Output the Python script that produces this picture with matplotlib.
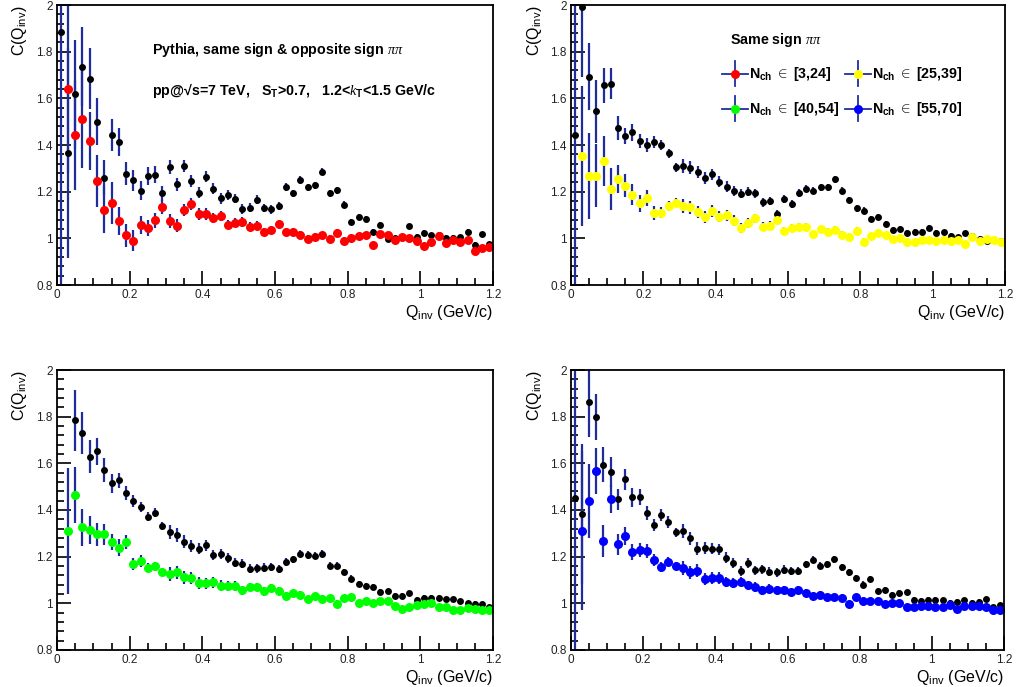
import numpy as np
import matplotlib
matplotlib.use("Agg")
import matplotlib.pyplot as plt
from matplotlib.ticker import MultipleLocator, FuncFormatter

plt.rcParams['font.family'] = ['Liberation Sans', 'DejaVu Sans']
plt.rcParams['mathtext.fontset'] = 'custom'
plt.rcParams['mathtext.rm'] = 'Liberation Sans'
plt.rcParams['mathtext.it'] = 'Liberation Serif:italic'
plt.rcParams['mathtext.bf'] = 'Liberation Sans:bold'

# bin centres, Qinv (GeV/c), 0.02 wide bins
q_bins = np.round(np.arange(60) * 0.02 + 0.01, 2)
nan = np.nan

# ---- top left: same sign (black) vs opposite sign (red)
p1_black = [1.886, 1.367, 1.617, 1.736, 1.684, 1.500, 1.259, 1.443, 1.413, 1.277,
            1.250, 1.204, 1.267, 1.273, 1.193, 1.304, 1.231, 1.310, 1.246, 1.196,
            1.264, 1.213, 1.171, 1.187, 1.170, 1.126, 1.131, 1.165, 1.129, 1.124,
            1.140, 1.221, 1.193, 1.250, 1.219, 1.227, 1.286, 1.194, 1.206, 1.144,
            1.071, 1.093, 1.084, 1.026, 1.057, 0.996, 1.000, 1.004, 1.051, 1.007,
            1.024, 1.014, 1.013, 1.003, 1.003, 1.004, 1.029, 0.973, 1.017, 0.974]
p1_red = [nan, 1.640, 1.443, 1.510, 1.416, 1.246, 1.123, 1.151, 1.074, 1.013,
          0.990, 1.057, 1.043, 1.077, 1.136, 1.073, 1.054, 1.121, 1.147, 1.103,
          1.104, 1.087, 1.097, 1.059, 1.067, 1.070, 1.050, 1.055, 1.027, 1.036,
          1.061, 1.026, 1.027, 1.014, 0.999, 1.006, 1.014, 0.999, 1.024, 0.990,
          1.003, 1.009, 1.014, 0.970, 1.019, 1.013, 0.993, 1.004, 1.001, 0.989,
          0.967, 0.986, 1.011, 0.981, 0.993, 0.986, 0.993, 0.946, 0.959, 0.961]

# ---- top right: Nch in [25,39]
p2_black = [1.443, 1.993, 1.693, 1.544, 1.656, 1.663, 1.473, 1.440, 1.454, 1.417,
            1.400, 1.414, 1.400, 1.365, 1.304, 1.309, 1.302, 1.284, 1.259, 1.274,
            1.242, 1.222, 1.202, 1.192, 1.200, 1.193, 1.154, 1.160, 1.105, 1.168,
            1.148, 1.193, 1.213, 1.205, 1.219, 1.219, 1.254, 1.203, 1.165, 1.128,
            1.119, 1.083, 1.093, 1.062, 1.036, 1.042, 1.024, 1.026, 1.029, 1.046,
            1.023, 1.026, 1.010, 1.004, 1.021, 1.009, 0.999, 0.990, 0.993, 0.987]
p2_yellow = [nan, 1.352, 1.266, 1.269, 1.331, 1.213, 1.254, 1.226, 1.186, 1.150,
             1.173, 1.110, 1.110, 1.139, 1.153, 1.140, 1.133, 1.113, 1.092, 1.117,
             1.093, 1.099, 1.076, 1.043, 1.066, 1.086, 1.050, 1.054, 1.079, 1.032,
             1.045, 1.047, 1.050, 1.017, 1.039, 1.029, 1.037, 1.016, 1.006, 1.033,
             0.986, 1.011, 1.021, 1.013, 0.996, 1.001, 0.983, 0.983, 0.993, 0.993,
             0.987, 0.993, 0.987, 0.993, 0.977, 1.007, 0.990, 0.997, 0.993, 0.986]

# ---- bottom left: Nch in [40,54]
p3_black = [nan, nan, 1.784, 1.730, 1.629, 1.651, 1.572, 1.515, 1.528, 1.475,
            1.438, 1.412, 1.372, 1.389, 1.332, 1.306, 1.293, 1.265, 1.245, 1.235,
            1.248, 1.207, 1.210, 1.196, 1.175, 1.170, 1.148, 1.150, 1.153, 1.156,
            1.149, 1.177, 1.189, 1.213, 1.207, 1.203, 1.213, 1.162, 1.162, 1.134,
            1.106, 1.083, 1.074, 1.070, 1.050, 1.051, 1.033, 1.033, 1.043, 1.014,
            1.024, 1.023, 1.024, 1.017, 1.017, 1.009, 1.000, 0.999, 0.996, 0.984]
p3_green = [nan, 1.309, 1.466, 1.326, 1.313, 1.296, 1.296, 1.263, 1.239, 1.262,
            1.170, 1.182, 1.153, 1.159, 1.136, 1.124, 1.133, 1.112, 1.107, 1.087,
            1.086, 1.090, 1.076, 1.074, 1.074, 1.056, 1.070, 1.070, 1.051, 1.067,
            1.051, 1.033, 1.043, 1.036, 1.017, 1.030, 1.019, 1.021, 0.999, 1.023,
            1.026, 1.003, 1.010, 1.003, 1.009, 1.009, 0.987, 0.976, 0.984, 0.993,
            0.999, 1.000, 0.983, 0.983, 0.971, 0.971, 0.981, 0.976, 0.971, 0.970]

# ---- bottom right: Nch in [55,70]
p4_black = [1.452, 1.382, 1.861, 1.798, 1.595, 1.564, 1.446, 1.531, 1.455, 1.455,
            1.386, 1.335, 1.379, 1.349, 1.305, 1.310, 1.278, 1.235, 1.239, 1.235,
            1.232, 1.195, 1.173, 1.139, 1.173, 1.142, 1.146, 1.136, 1.133, 1.145,
            1.139, 1.140, 1.167, 1.187, 1.162, 1.167, 1.189, 1.155, 1.133, 1.109,
            1.080, 1.103, 1.054, 1.059, 1.037, 1.044, 1.047, 1.014, 1.011, 1.016,
            1.016, 1.014, 1.003, 1.007, 1.013, 1.003, 1.007, 1.017, 0.984, 0.991]
p4_blue = [nan, 1.312, 1.439, 1.567, 1.267, 1.448, 1.253, 1.288, 1.219, 1.229,
           1.223, 1.186, 1.156, 1.179, 1.159, 1.153, 1.134, 1.140, 1.103, 1.110,
           1.109, 1.092, 1.087, 1.090, 1.077, 1.070, 1.056, 1.062, 1.056, 1.056,
           1.049, 1.059, 1.044, 1.031, 1.037, 1.026, 1.027, 1.023, 0.997, 1.026,
           1.011, 1.011, 1.011, 0.997, 1.001, 1.003, 0.983, 0.986, 0.989, 0.987,
           0.984, 0.986, 0.994, 0.977, 0.987, 0.989, 0.989, 0.983, 0.970, 0.970]

# statistical errors: first 15 bins per series, then the (small) common tail
tail_err = [0.030, 0.028, 0.027, 0.026, 0.025, 0.024, 0.023, 0.022, 0.021, 0.020,
            0.020, 0.019, 0.019, 0.018, 0.018, 0.017, 0.017, 0.016, 0.016, 0.016,
            0.015, 0.015, 0.015, 0.014, 0.014, 0.014, 0.013, 0.013, 0.013, 0.013,
            0.012, 0.012, 0.012, 0.012, 0.012, 0.011, 0.011, 0.011, 0.011, 0.011,
            0.011, 0.011, 0.011, 0.011, 0.011]
p1_black_err = [1.10, 0.45, 0.235, 0.17, 0.13, 0.10, 0.075, 0.07, 0.06, 0.05,
                0.045, 0.04, 0.04, 0.035, 0.033] + tail_err
p1_red_err = [nan, 0.36, 0.235, 0.21, 0.125, 0.11, 0.10, 0.09, 0.06, 0.05,
              0.045, 0.038, 0.035, 0.033, 0.03] + tail_err
p2_black_err = [0.80, 0.30, 0.143, 0.136, 0.075, 0.065, 0.05, 0.035, 0.035, 0.03,
                0.03, 0.025, 0.022, 0.02, 0.018] + tail_err
p2_yellow_err = [nan, 0.30, 0.185, 0.135, 0.107, 0.09, 0.06, 0.05, 0.045, 0.035,
                 0.035, 0.03, 0.025, 0.02, 0.018] + tail_err
p3_black_err = [nan, nan, 0.13, 0.09, 0.07, 0.057, 0.05, 0.04, 0.032, 0.03,
                0.025, 0.022, 0.02, 0.02, 0.017] + tail_err
p3_green_err = [nan, 0.27, 0.12, 0.08, 0.06, 0.05, 0.045, 0.035, 0.035, 0.03,
                0.025, 0.025, 0.02, 0.02, 0.017] + tail_err
p4_black_err = [0.80, 0.30, 0.15, 0.10, 0.075, 0.065, 0.045, 0.045, 0.04, 0.035,
                0.03, 0.025, 0.025, 0.025, 0.02] + tail_err
p4_blue_err = [nan, 0.34, 0.16, 0.10, 0.07, 0.06, 0.045, 0.04, 0.035, 0.03,
               0.03, 0.025, 0.02, 0.02, 0.018] + tail_err

nch_labels = ['[3,24]', '[25,39]', '[40,54]', '[55,70]']
nch_colors = ['#ff0000', '#ffff00', '#00ff00', '#0000ff']

ERR_COLOR = '#1f2d9c'
W, H = 1018, 687

fig = plt.figure(figsize=(W / 100, H / 100), dpi=100)


def px_axes(l, t, r, b):
    return fig.add_axes([l / W, 1 - b / H, (r - l) / W, (b - t) / H])


def style_axes(ax):
    ax.set_xlim(0, 1.2)
    ax.set_ylim(0.8, 2.0)
    for s in ax.spines.values():
        s.set_linewidth(1.3)
    ax.xaxis.set_major_locator(MultipleLocator(0.2))
    ax.xaxis.set_minor_locator(MultipleLocator(0.05))
    ax.yaxis.set_major_locator(MultipleLocator(0.2))
    ax.yaxis.set_minor_locator(MultipleLocator(0.04))
    fmt = FuncFormatter(lambda v, p: '%g' % round(v, 2))
    ax.xaxis.set_major_formatter(fmt)
    ax.yaxis.set_major_formatter(fmt)
    ax.tick_params(which='both', direction='in', top=False, right=False,
                   labelsize=8.5, labelcolor='#222222', width=1.2)
    ax.tick_params(which='major', length=10, pad=3)
    ax.tick_params(which='minor', length=5)
    ax.text(1.0, -0.098, r'Q$_{\rm inv}$ (GeV/c)', transform=ax.transAxes,
            ha='right', va='center', fontsize=11.5)
    ax.text(-0.085, 1.0, r'C(Q$_{\rm inv}$)', transform=ax.transAxes,
            ha='center', va='top', rotation=90, fontsize=11.5)


def draw_pair(ax, black, black_err, col, col_err, color):
    ax.errorbar(q_bins, black, yerr=black_err, fmt='o', color='black', ms=5,
                mew=0, ecolor=ERR_COLOR, elinewidth=1.6, capsize=0)
    ax.errorbar(q_bins, col, yerr=col_err, fmt='o', color=color, ms=6.5,
                mew=0, ecolor=ERR_COLOR, elinewidth=1.6, capsize=0)


ax1 = px_axes(57, 5, 493, 285)
ax2 = px_axes(571, 5, 1005, 285)
ax3 = px_axes(57, 370, 493, 650)
ax4 = px_axes(571, 370, 1004, 650)

draw_pair(ax1, p1_black, p1_black_err, p1_red, p1_red_err, nch_colors[0])
draw_pair(ax2, p2_black, p2_black_err, p2_yellow, p2_yellow_err, nch_colors[1])
draw_pair(ax3, p3_black, p3_black_err, p3_green, p3_green_err, nch_colors[2])
draw_pair(ax4, p4_black, p4_black_err, p4_blue, p4_blue_err, nch_colors[3])

for ax in (ax1, ax2, ax3, ax4):
    style_axes(ax)

ax1.text(0.218, 0.84, r'Pythia, same sign & opposite sign $\pi\pi$',
         transform=ax1.transAxes, fontsize=10.3, fontweight='bold', va='center')
ax1.text(0.218, 0.695,
         r'pp@√s=7 TeV,   S$_\mathbf{T}$>0.7,   1.2<$k_\mathbf{T}$<1.5 GeV/c',
         transform=ax1.transAxes, fontsize=10.3, fontweight='bold', va='center')

# legend of the multiplicity classes
ax2.text(0.366, 0.875, r'Same sign $\pi\pi$', transform=ax2.transAxes,
         fontsize=10.3, fontweight='bold', va='center')
leg_x = [0.378, 0.661, 0.378, 0.661]
leg_y = [0.754, 0.754, 0.629, 0.629]
for lx, ly, lab, c in zip(leg_x, leg_y, nch_labels, nch_colors):
    ax2.plot([lx - 0.03, lx + 0.03], [ly, ly], color=ERR_COLOR, lw=1.3,
             transform=ax2.transAxes, clip_on=False)
    ax2.plot([lx, lx], [ly - 0.045, ly + 0.045], color=ERR_COLOR, lw=1.3,
             transform=ax2.transAxes, clip_on=False)
    ax2.plot([lx], [ly], 'o', color=c, ms=6.5, mew=0,
             transform=ax2.transAxes, clip_on=False)
    ax2.text(lx + 0.032, ly, r'$\mathbf{N_{ch}}$ $\in$ ' + lab,
             transform=ax2.transAxes, fontsize=10.3, fontweight='bold', va='center')

fig.savefig('out.png', dpi=100)
